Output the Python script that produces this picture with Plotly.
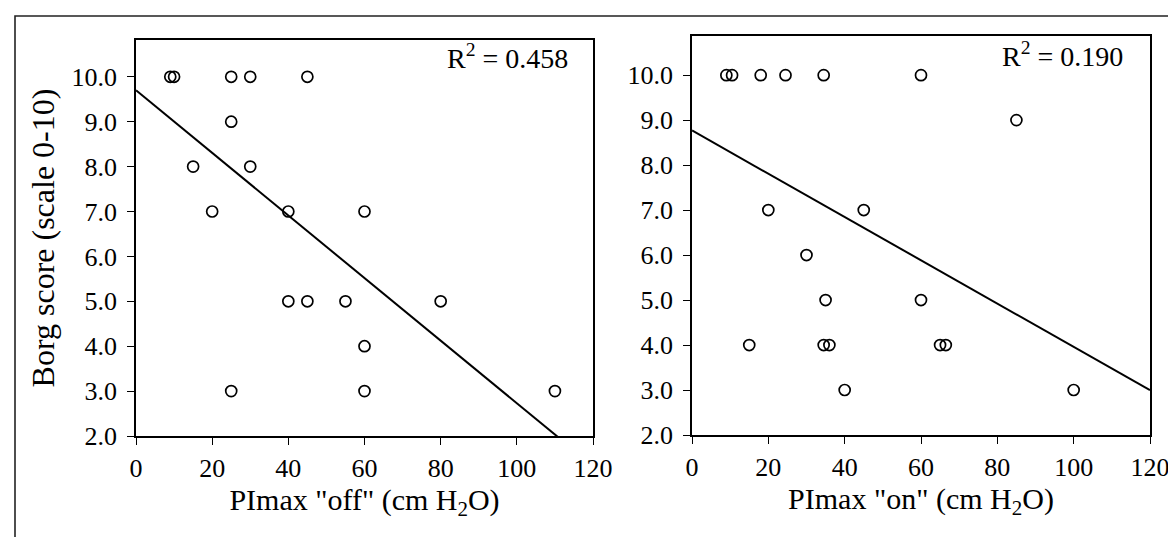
import plotly.graph_objects as go

# ---- data ----
pimax_off = [9, 10, 25, 30, 45, 25, 15, 30, 20, 40, 60, 40, 45, 55, 80, 60, 25, 60, 110]
borg_off = [10, 10, 10, 10, 10, 9, 8, 8, 7, 7, 7, 5, 5, 5, 5, 4, 3, 3, 3]

pimax_on = [9, 10.5, 18, 24.5, 34.5, 60, 85, 20, 45, 30, 35, 60, 15, 34.5, 36, 65, 66.5, 40, 100]
borg_on = [10, 10, 10, 10, 10, 10, 9, 7, 7, 6, 5, 5, 4, 4, 4, 4, 4, 3, 3]

# regression lines: [intercept, slope]
fit_off = [9.70, -0.0697]
fit_on = [8.77, -0.0481]
r2_off = 0.458
r2_on = 0.190

x_ticks = [0, 20, 40, 60, 80, 100, 120]
y_ticks = [2, 3, 4, 5, 6, 7, 8, 9, 10]
line_x = [0, 120]

W, H = 1176, 537
FONT = "Liberation Serif"


def px(x):
    return x / W


def py(y):
    return 1 - y / H


fig = go.Figure()

marker = dict(symbol="circle-open", size=11, color="black", line=dict(width=1.7, color="black"))

fig.add_trace(go.Scatter(x=pimax_off, y=borg_off, mode="markers", marker=marker,
                         xaxis="x", yaxis="y", showlegend=False))
fig.add_trace(go.Scatter(x=line_x, y=[fit_off[0] + fit_off[1] * v for v in line_x], mode="lines",
                         line=dict(color="black", width=2), xaxis="x", yaxis="y", showlegend=False))
fig.add_trace(go.Scatter(x=pimax_on, y=borg_on, mode="markers", marker=marker,
                         xaxis="x2", yaxis="y2", showlegend=False))
fig.add_trace(go.Scatter(x=line_x, y=[fit_on[0] + fit_on[1] * v for v in line_x], mode="lines",
                         line=dict(color="black", width=2), xaxis="x2", yaxis="y2", showlegend=False))

common_x = dict(range=[0, 120], tickvals=x_ticks, ticks="outside", ticklen=7, tickwidth=1.3,
                tickcolor="black", showline=True, linecolor="black", linewidth=1.6, mirror=True,
                showgrid=False, zeroline=False, automargin=False, ticklabelstandoff=1,
                tickfont=dict(family=FONT, size=26, color="black"))
common_y = dict(tickvals=y_ticks, tickformat=".1f", ticks="outside", ticklen=7, tickwidth=1.3,
                tickcolor="black", showline=True, linecolor="black", linewidth=1.6, mirror=True,
                showgrid=False, zeroline=False, automargin=False, ticklabelstandoff=5,
                tickfont=dict(family=FONT, size=26, color="black"))

fig.update_layout(
    width=W, height=H,
    margin=dict(l=0, r=0, t=0, b=0),
    paper_bgcolor="white", plot_bgcolor="white",
    font=dict(family=FONT, color="black"),
    xaxis=dict(common_x, domain=[px(128), px(585)], anchor="y",
               title=dict(text='PImax "off" (cm H<sub>2</sub>O)', standoff=6,
                          font=dict(family=FONT, size=30, color="black"))),
    yaxis=dict(common_y, domain=[py(428), py(32)], range=[2, 10.82], anchor="x",
               title=dict(text="Borg score (scale 0-10)", standoff=7,
                          font=dict(family=FONT, size=32, color="black"))),
    xaxis2=dict(common_x, domain=[px(684), px(1142)], anchor="y2",
                title=dict(text='PImax "on" (cm H<sub>2</sub>O)', standoff=6,
                           font=dict(family=FONT, size=30, color="black"))),
    yaxis2=dict(common_y, domain=[py(427), py(28)], range=[2, 10.87], anchor="x2"),
    shapes=[dict(type="rect", xref="paper", yref="paper", x0=px(7), y0=-0.05, x1=1.05, y1=py(8),
                 line=dict(color="#222", width=1.6), fillcolor="rgba(0,0,0,0)", layer="below")],
    annotations=[
        dict(text="R<sup>2</sup> = %.3f" % r2_off, xref="paper", yref="paper", x=px(562), y=py(49),
             xanchor="right", yanchor="middle", showarrow=False,
             font=dict(family=FONT, size=28, color="black")),
        dict(text="R<sup>2</sup> = %.3f" % r2_on, xref="paper", yref="paper", x=px(1117), y=py(47),
             xanchor="right", yanchor="middle", showarrow=False,
             font=dict(family=FONT, size=28, color="black")),
    ],
)

fig.write_html("out.html")
